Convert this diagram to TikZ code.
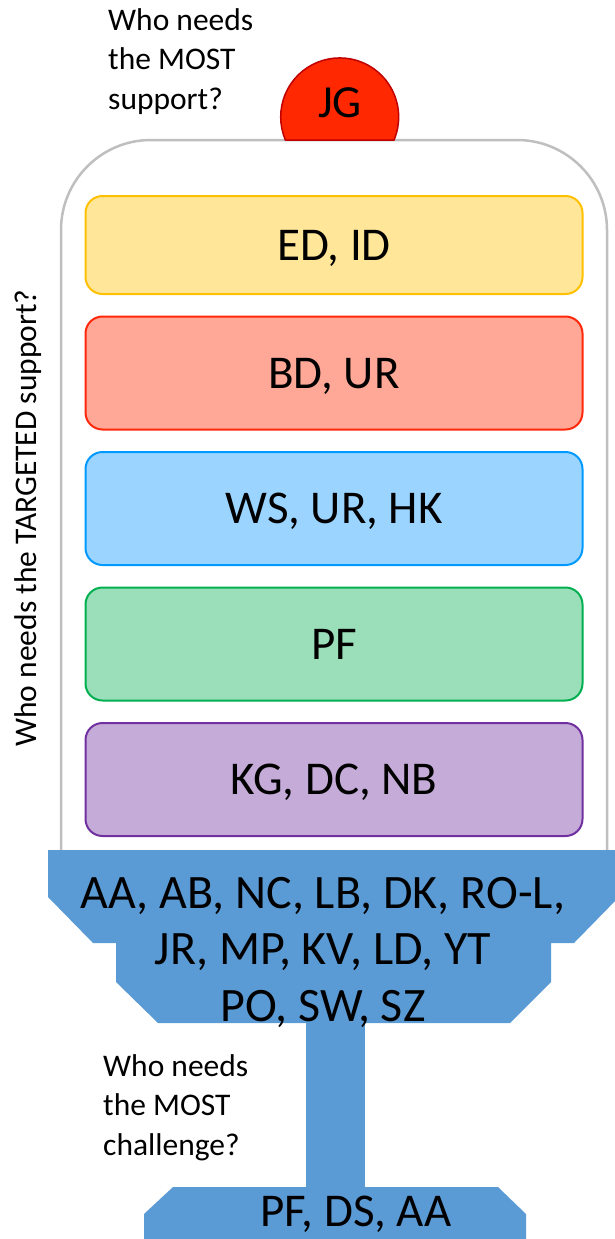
\documentclass[tikz,border=0pt]{standalone}
\usepackage{fontspec}
\setmainfont{Carlito}
\usepackage{tikz}
\usetikzlibrary{positioning}
\definecolor{framegray}{RGB}{191,191,191}
\definecolor{domered}{RGB}{255,40,0}
\definecolor{domeline}{RGB}{192,0,0}
\definecolor{baseblue}{RGB}{91,155,213}
\tikzstyle{group}=[draw,rounded corners=17pt,line width=2pt,minimum width=497pt,minimum height=113pt,inner sep=0pt,text depth=0pt,font=\fontsize{47}{56}\selectfont]
\tikzstyle{question}=[align=left,anchor=north west,inner sep=0pt,font=\fontsize{31.5}{39.5}\selectfont]

\begin{document}
\begin{tikzpicture}[x=1pt,y=-1pt,node distance=20.5pt]
\useasboundingbox (0,0) rectangle (615,1239);
% cup outline and lid
\draw[framegray,line width=2.5pt,rounded corners=90pt] (61,850) -- (61,140) -- (607,140) -- (607,850);
\filldraw[fill=domered,draw=domeline,line width=1.5pt] (394,140) arc[start angle=-23,end angle=203,radius=59pt] -- cycle;
\node[font=\fontsize{46}{55}\selectfont] (jg) at (340,103) {JG};
\node[question] (most) at (108,8) {Who needs\\the MOST\\support?};
\node[question,rotate=90,anchor=center] (targeted) at (28,518) {Who needs the TARGETED support?};
% the layers
\node[group,fill={rgb,255:red,255;green,230;blue,153},draw={rgb,255:red,255;green,192;blue,0},minimum height=98pt] (ed) at (334,245) {ED, ID};
\node[group,fill={rgb,255:red,255;green,168;blue,152},draw={rgb,255:red,255;green,40;blue,10},below=of ed] (bd) {BD, UR};
\node[group,fill={rgb,255:red,155;green,213;blue,255},draw={rgb,255:red,0;green,153;blue,255},below=of bd] (ws) {WS, UR, HK};
\node[group,fill={rgb,255:red,155;green,223;blue,186},draw={rgb,255:red,0;green,176;blue,80},below=of ws] (pf) {PF};
\node[group,fill={rgb,255:red,197;green,171;blue,216},draw={rgb,255:red,112;green,48;blue,160},below=of pf] (kg) {KG, DC, NB};
% stand
\fill[baseblue] (48,850) -- (619,850) -- (619,897) -- (574,943) -- (551,943) -- (551,982) -- (510,1023) -- (158,1023) -- (116,982) -- (116,943) -- (93,943) -- (48,897) -- cycle;
\fill[baseblue] (306,1022) rectangle (365,1188);
\fill[baseblue] (173,1187) -- (498,1187) -- (526,1214) -- (526,1245) -- (144,1245) -- (144,1214) -- cycle;
\node[align=center,anchor=north,inner sep=0pt,font=\fontsize{48}{56.5}\selectfont] (core) at (323,877) {AA, AB, NC, LB, DK, RO-L,\\JR, MP, KV, LD, YT\\PO, SW, SZ};
\node[question] (challenge) at (103,1054) {Who needs\\the MOST\\challenge?};
\node[anchor=base,inner sep=0pt,font=\fontsize{47}{56}\selectfont] (stretch) at (356,1226) {PF, DS, AA};
\end{tikzpicture}
\end{document}
